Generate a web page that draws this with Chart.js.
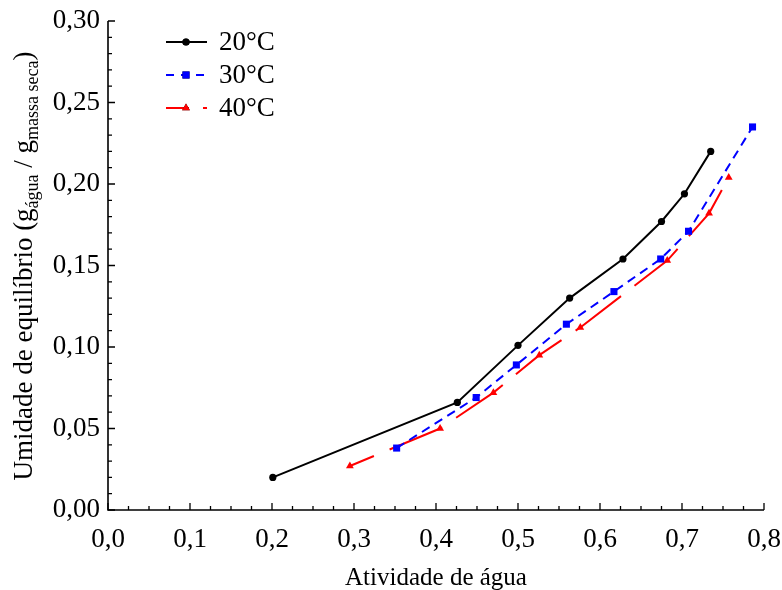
<!DOCTYPE html>
<html><head><meta charset="utf-8">
<script src="https://cdn.jsdelivr.net/npm/chart.js@4/dist/chart.umd.min.js"></script>
<style>html,body{margin:0;padding:0;background:#fff}#wrap{width:782px;height:590px}</style>
</head><body><div id="wrap"><canvas id="c" width="782" height="590"></canvas></div>
<script>
// Data
const seriesLabels = ['20°C', '30°C', '40°C'];
const aw20 = [0.201, 0.426, 0.500, 0.563, 0.628, 0.675, 0.703, 0.735];
const ue20 = [0.020, 0.066, 0.101, 0.130, 0.154, 0.177, 0.194, 0.220];
const aw30 = [0.352, 0.449, 0.498, 0.559, 0.617, 0.674, 0.708, 0.786];
const ue30 = [0.038, 0.069, 0.089, 0.114, 0.134, 0.154, 0.171, 0.235];
const aw40 = [0.295, 0.405, 0.470, 0.526, 0.576, 0.682, 0.733, 0.757];
const ue40 = [0.027, 0.050, 0.072, 0.095, 0.112, 0.153, 0.182, 0.204];
const xTicks = [0, 0.1, 0.2, 0.3, 0.4, 0.5, 0.6, 0.7, 0.8];
const yTicks = [0, 0.05, 0.10, 0.15, 0.20, 0.25, 0.30];

const pts = (xs, ys) => xs.map((x, i) => ({x, y: ys[i]}));
const FONT = '"Liberation Serif", "Times New Roman", serif';

const datasets = [
  {label: seriesLabels[0], data: pts(aw20, ue20), borderColor: '#000', backgroundColor: '#000',
   borderWidth: 2, pointStyle: 'circle', pointRadius: 3.6, borderDash: []},
  {label: seriesLabels[1], data: pts(aw30, ue30), borderColor: '#0000ff', backgroundColor: '#0000ff',
   borderWidth: 2, pointStyle: 'rect', pointRadius: 5, borderDash: [9, 6]},
  {label: seriesLabels[2], data: pts(aw40, ue40), borderColor: '#ff0000', backgroundColor: '#ff0000',
   borderWidth: 2, pointStyle: 'triangle', pointRadius: 4.5, borderDash: [57, 17], borderDashOffset: 31}
];
datasets.forEach(d => { d.showLine = true; d.tension = 0; d.pointBorderWidth = 0; d.pointHoverRadius = d.pointRadius; });

const customDraw = {
  id: 'customDraw',
  afterDraw(chart) {
    const ctx = chart.ctx, xs = chart.scales.x, ys = chart.scales.y, a = chart.chartArea;
    ctx.save();
    // spines
    ctx.strokeStyle = '#000'; ctx.lineWidth = 1.6; ctx.setLineDash([]);
    ctx.beginPath();
    ctx.moveTo(a.left, a.top); ctx.lineTo(a.left, a.bottom); ctx.lineTo(a.right, a.bottom);
    ctx.stroke();
    // inward ticks
    ctx.lineWidth = 1.3;
    ctx.beginPath();
    for (let i = 0; i <= 32; i++) {
      const v = i * 0.025, px = xs.getPixelForValue(v), len = (i % 4 === 0) ? 7 : 4;
      ctx.moveTo(px, a.bottom); ctx.lineTo(px, a.bottom - len);
    }
    for (let i = 0; i <= 30; i++) {
      const v = i * 0.01, py = ys.getPixelForValue(v), len = (i % 5 === 0) ? 7 : 4;
      ctx.moveTo(a.left, py); ctx.lineTo(a.left + len, py);
    }
    ctx.stroke();
    // x title
    ctx.fillStyle = '#000';
    ctx.font = '25px ' + FONT;
    ctx.textAlign = 'center'; ctx.textBaseline = 'alphabetic';
    ctx.fillText('Atividade de água', 436, 585);
    // y title with subscripts
    const parts = [
      ['Umidade de equilíbrio (g', 27, 0], ['água', 18, 6], [' / g', 27, 0], ['massa seca', 18, 6], [')', 27, 0]
    ];
    let total = 0;
    parts.forEach(p => { ctx.font = p[1] + 'px ' + FONT; p.push(ctx.measureText(p[0]).width); total += p[3]; });
    ctx.translate(32, 266);
    ctx.rotate(-Math.PI / 2);
    ctx.textAlign = 'left';
    let cx = -total / 2;
    parts.forEach(p => { ctx.font = p[1] + 'px ' + FONT; ctx.fillText(p[0], cx, p[2]); cx += p[3]; });
    ctx.restore();
    // legend
    ctx.save();
    const rows = [42, 75, 108];
    chart.data.datasets.forEach((d, i) => {
      const y = rows[i];
      ctx.strokeStyle = d.borderColor; ctx.lineWidth = 2;
      if (i === 1) { ctx.setLineDash([8, 7]); ctx.lineDashOffset = 0; }
      else if (i === 2) { ctx.setLineDash([23, 14]); ctx.lineDashOffset = 0; }
      else ctx.setLineDash([]);
      ctx.beginPath(); ctx.moveTo(166, y); ctx.lineTo(207, y); ctx.stroke();
      ctx.setLineDash([]);
      Chart.helpers.drawPoint(ctx, {pointStyle: d.pointStyle, radius: d.pointRadius, borderWidth: 0}, 186, y);
      ctx.fillStyle = d.backgroundColor; ctx.fill();
      ctx.fillStyle = '#000'; ctx.font = '27px ' + FONT; ctx.textAlign = 'left'; ctx.textBaseline = 'middle';
      ctx.fillText(d.label, 219, y + 1);
    });
    ctx.restore();
  }
};

new Chart(document.getElementById('c'), {
  type: 'scatter',
  data: {datasets},
  options: {
    responsive: false, animation: false,
    layout: {padding: {top: 21, right: 18, left: 0, bottom: 0}},
    plugins: {legend: {display: false}, tooltip: {enabled: false}},
    scales: {
      x: {
        type: 'linear', min: 0, max: 0.8,
        afterBuildTicks: s => { s.ticks = xTicks.map(v => ({value: v})); },
        afterFit: s => { s.height = 80; s.paddingLeft = 0; s.paddingRight = 0; },
        grid: {display: false}, border: {display: false},
        ticks: {color: '#000', padding: 6, maxRotation: 0, autoSkip: false,
          font: {family: FONT, size: 27}, callback: v => v.toFixed(1).replace('.', ',')}
      },
      y: {
        type: 'linear', min: 0, max: 0.30,
        afterBuildTicks: s => { s.ticks = yTicks.map(v => ({value: v})); },
        afterFit: s => { s.width = 108; s.paddingTop = 0; s.paddingBottom = 0; },
        grid: {display: false}, border: {display: false},
        ticks: {color: '#000', padding: 0, autoSkip: false,
          font: {family: FONT, size: 27}, callback: v => v.toFixed(2).replace('.', ',')}
      }
    }
  },
  plugins: [customDraw]
});
</script></body></html>
